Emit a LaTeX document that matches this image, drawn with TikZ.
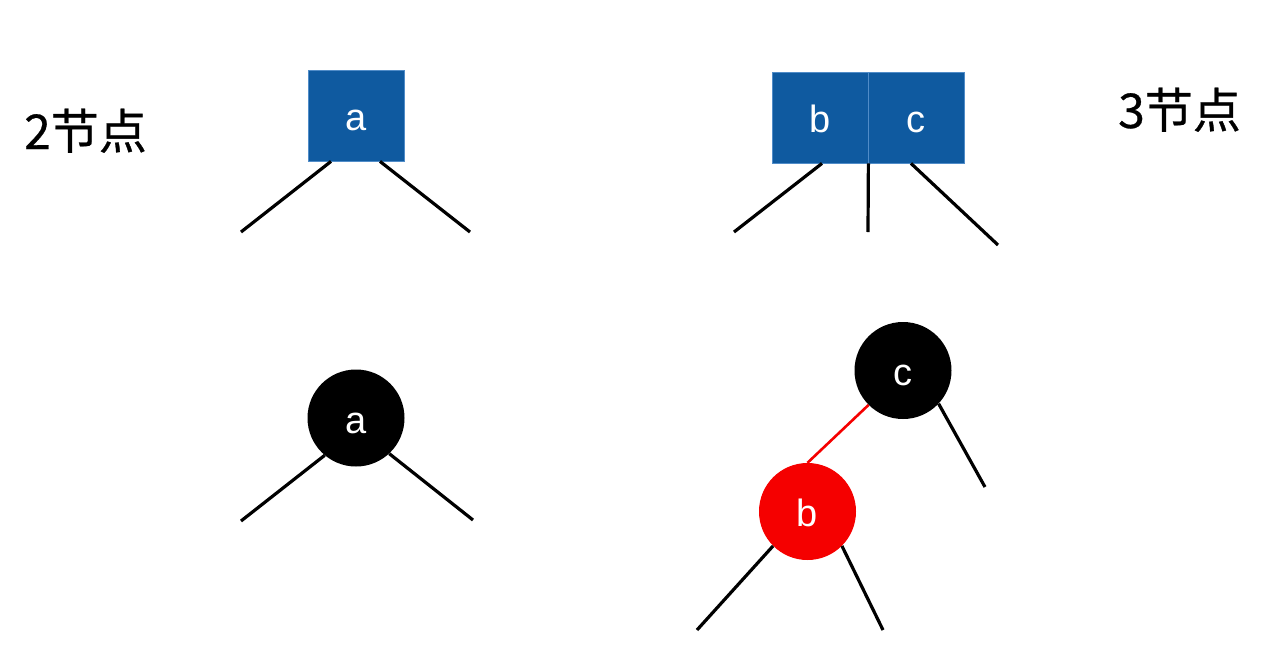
\documentclass[tikz,border=0pt]{standalone}
\usepackage{fontspec}
\setmainfont{Liberation Sans}
\newfontfamily\cjk[FakeBold=0.6]{Noto Sans CJK SC}
\definecolor{nodeblue}{RGB}{15,90,160}
\definecolor{edgeblue}{RGB}{80,140,200}
\definecolor{rbred}{RGB}{245,0,0}
\begin{document}
\begin{tikzpicture}[x=1pt,y=-1pt,
  keybox/.style={rectangle, fill=nodeblue, draw=edgeblue, line width=0.8pt,
    minimum width=96pt, minimum height=91pt, inner sep=0pt, text=white,
    font=\fontsize{38}{40}\selectfont, text height=30pt, text depth=0pt},
  rbnode/.style={circle, minimum size=97pt, inner sep=0pt, text=white,
    font=\fontsize{38}{40}\selectfont, text height=30pt, text depth=0pt},
  blacknode/.style={rbnode, fill=black},
  rednode/.style={rbnode, fill=rbred},
  edge/.style={line width=3.2pt, black},
  redge/.style={line width=2.6pt, rbred},
  cjklabel/.style={inner sep=0pt, font=\fontsize{48}{56}\selectfont\cjk}
]
\useasboundingbox (0,0) rectangle (1286,646);

% labels
\node[cjklabel, anchor=base west] (two) at (24,149) {2节点};
\node[cjklabel, anchor=base west] (three) at (1118,128) {3节点};

% 2-node
\node[keybox] (ba) at (356,115.5) {a};
\coordinate (a2l) at (241,232);
\coordinate (a2r) at (470,232);
\draw[edge] ([xshift=-25pt]ba.south) -- (a2l);
\draw[edge] ([xshift=24pt]ba.south) -- (a2r);

% 3-node
\node[keybox] (bb) at (820,117.5) {b};
\node[keybox] (bc) at (916,117.5) {c};
\coordinate (bcl) at (734,232);
\coordinate (bcm) at (868,232);
\coordinate (bcr) at (998,245);
\draw[edge] ([xshift=2pt]bb.south) -- (bcl);
\draw[edge] (bb.south east) -- (bcm);
\draw[edge] ([xshift=-5pt]bc.south) -- (bcr);

% red-black 2-node
\node[blacknode] (ra) at (356,418) {a};
\coordinate (ral) at (241,521);
\coordinate (rar) at (473,520);
\draw[edge] (ra.230) -- (ral);
\draw[edge] (ra.313) -- (rar);

% red-black 3-node
\node[blacknode] (rc) at (903,370.5) {c};
\node[rednode] (rb) at (807.5,511.5) {b};
\coordinate (rcr) at (985,487);
\coordinate (rbl) at (697,630);
\coordinate (rbr) at (883,630);
\draw[redge] (rc.225) -- (rb.north);
\draw[edge] (rc.317) -- (rcr);
\draw[edge] (rb.225) -- (rbl);
\draw[edge] (rb.315) -- (rbr);
\end{tikzpicture}
\end{document}
